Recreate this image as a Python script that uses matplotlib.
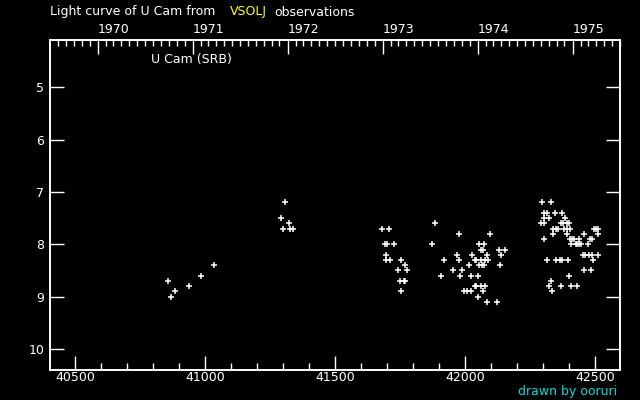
import matplotlib
matplotlib.use('Agg')
from matplotlib import pyplot as plt
from matplotlib.ticker import MultipleLocator, FixedLocator
import numpy as np

# JD - 2400000 and visual magnitude, one pair of lists per season
jd_1970 = [40859, 40870, 40886, 40940, 40986, 41036]
mag_1970 = [8.7, 9.0, 8.9, 8.8, 8.6, 8.4]

jd_1971 = [41294, 41301, 41309, 41324, 41328, 41340]
mag_1971 = [7.5, 7.7, 7.2, 7.6, 7.7, 7.7]

jd_1972 = [41682, 41709, 41692, 41700, 41728, 41697, 41697, 41713, 41755,
           41770, 41743, 41778, 41751, 41765, 41771, 41755]
mag_1972 = [7.7, 7.7, 8.0, 8.0, 8.0, 8.2, 8.3, 8.3, 8.3,
            8.4, 8.5, 8.5, 8.7, 8.7, 8.7, 8.9]

jd_1973 = [41874, 41886, 41909, 41920, 41955, 41970, 41978, 41978, 41982,
           41990, 41997, 42009, 42017, 42024, 42024, 42028, 42037, 42043,
           42037, 42043, 42051, 42051, 42055, 42055, 42063, 42069, 42063,
           42063, 42067, 42073, 42070, 42074, 42078, 42078, 42086, 42086,
           42090, 42097, 42124, 42132, 42136, 42140, 42155]
mag_1973 = [8.0, 7.6, 8.6, 8.3, 8.5, 8.2, 7.8, 8.3, 8.6,
            8.5, 8.9, 8.9, 8.4, 8.6, 8.9, 8.2, 8.3, 8.3,
            8.8, 8.8, 8.6, 9.0, 8.0, 8.4, 8.1, 8.1, 8.3,
            8.8, 8.4, 8.4, 8.9, 8.0, 8.3, 8.8, 8.2, 9.1,
            8.3, 7.8, 9.1, 8.1, 8.4, 8.2, 8.1]

jd_1974 = [42297, 42332, 42304, 42317, 42347, 42374, 42305, 42324, 42386,
           42293, 42305, 42368, 42376, 42393, 42401, 42340, 42351, 42359,
           42382, 42393, 42405, 42497, 42505, 42513, 42340, 42393, 42459,
           42513, 42305, 42405, 42413, 42420, 42440, 42482, 42490, 42409,
           42425, 42432, 42439, 42447, 42474, 42455, 42462, 42478, 42490,
           42513, 42317, 42351, 42366, 42374, 42397, 42493, 42459, 42486,
           42401, 42332, 42324, 42370, 42409, 42432, 42336]
mag_1974 = [7.2, 7.2, 7.4, 7.4, 7.4, 7.4, 7.5, 7.5, 7.5,
            7.6, 7.6, 7.6, 7.6, 7.6, 7.6, 7.7, 7.7, 7.7,
            7.7, 7.7, 7.7, 7.7, 7.7, 7.7, 7.8, 7.8, 7.8,
            7.8, 7.9, 7.9, 7.9, 7.9, 7.9, 7.9, 7.9, 8.0,
            8.0, 8.0, 8.0, 8.0, 8.0, 8.2, 8.2, 8.2, 8.2,
            8.2, 8.3, 8.3, 8.3, 8.3, 8.3, 8.3, 8.5, 8.5,
            8.6, 8.7, 8.8, 8.8, 8.8, 8.8, 8.9]

years = [1970, 1971, 1972, 1973, 1974, 1975]

jd = np.concatenate([jd_1970, jd_1971, jd_1972, jd_1973, jd_1974])
mag = np.concatenate([mag_1970, mag_1971, mag_1972, mag_1973, mag_1974])

plt.rcParams['font.family'] = 'DejaVu Sans'
plt.rcParams['font.size'] = 9
fg = 'white'

fig = plt.figure(figsize=(6.4, 4.0), dpi=100, facecolor='black')
ax = fig.add_axes([50/640, 30/400, 570/640, 330/400], facecolor='black')

ax.plot(jd, mag, '+', color='white', ms=4, mew=1.1)

ax.set_xlim(40404, 42596)
ax.set_ylim(10.4, 4.1)

for s in ax.spines.values():
    s.set_color(fg)
    s.set_linewidth(1.2)

ax.xaxis.set_major_locator(MultipleLocator(500))
ax.xaxis.set_minor_locator(MultipleLocator(100))
ax.yaxis.set_major_locator(FixedLocator([5, 6, 7, 8, 9, 10]))
ax.tick_params(axis='x', which='major', direction='in', length=10, width=1,
               colors=fg, pad=1, top=False)
ax.tick_params(axis='x', which='minor', direction='in', length=5, width=1,
               colors=fg, top=False)
ax.tick_params(axis='y', which='major', direction='in', length=10, width=1,
               colors=fg, pad=4, right=True)

# calendar years on top: 1 Jan of each year, minor ticks at month starts
epoch = 40587.5  # 1970-01-01 as JD - 2400000
year_pos = [(np.datetime64(f'{y}-01-01') - np.datetime64('1970-01-01')).astype(int) + epoch
            for y in years]
months = np.arange(np.datetime64('1969-07'), np.datetime64('1976-01'), dtype='datetime64[M]')
month_pos = (months.astype('datetime64[D]') - np.datetime64('1970-01-01')).astype(int) + epoch

ax2 = ax.twiny()
ax2.set_xlim(ax.get_xlim())
ax2.xaxis.set_major_locator(FixedLocator(year_pos))
ax2.xaxis.set_minor_locator(FixedLocator(month_pos))
ax2.set_xticklabels([str(y) for y in years])
for lb in ax2.get_xticklabels():
    lb.set_ha('left')
ax2.tick_params(axis='x', which='major', direction='in', length=10, width=1,
                colors=fg, pad=3)
ax2.tick_params(axis='x', which='minor', direction='in', length=4, width=1,
                colors=fg)
for s in ax2.spines.values():
    s.set_color(fg)
    s.set_linewidth(1.2)

fig.text(50/640, 1 - 12/400, 'Light curve of U Cam from', color=fg, va='center', ha='left')
fig.text(230/640, 1 - 12/400, 'VSOLJ', color='#ffff00', va='center', ha='left')
fig.text(274/640, 1 - 12/400, 'observations', color=fg, va='center', ha='left')
fig.text(151/640, 1 - 60/400, 'U Cam (SRB)', color=fg, va='center', ha='left')
fig.text(617/640, 1 - 391/400, 'drawn by ooruri', color='#00dddd', va='center', ha='right')

fig.savefig('out.png', dpi=100, facecolor='black')
